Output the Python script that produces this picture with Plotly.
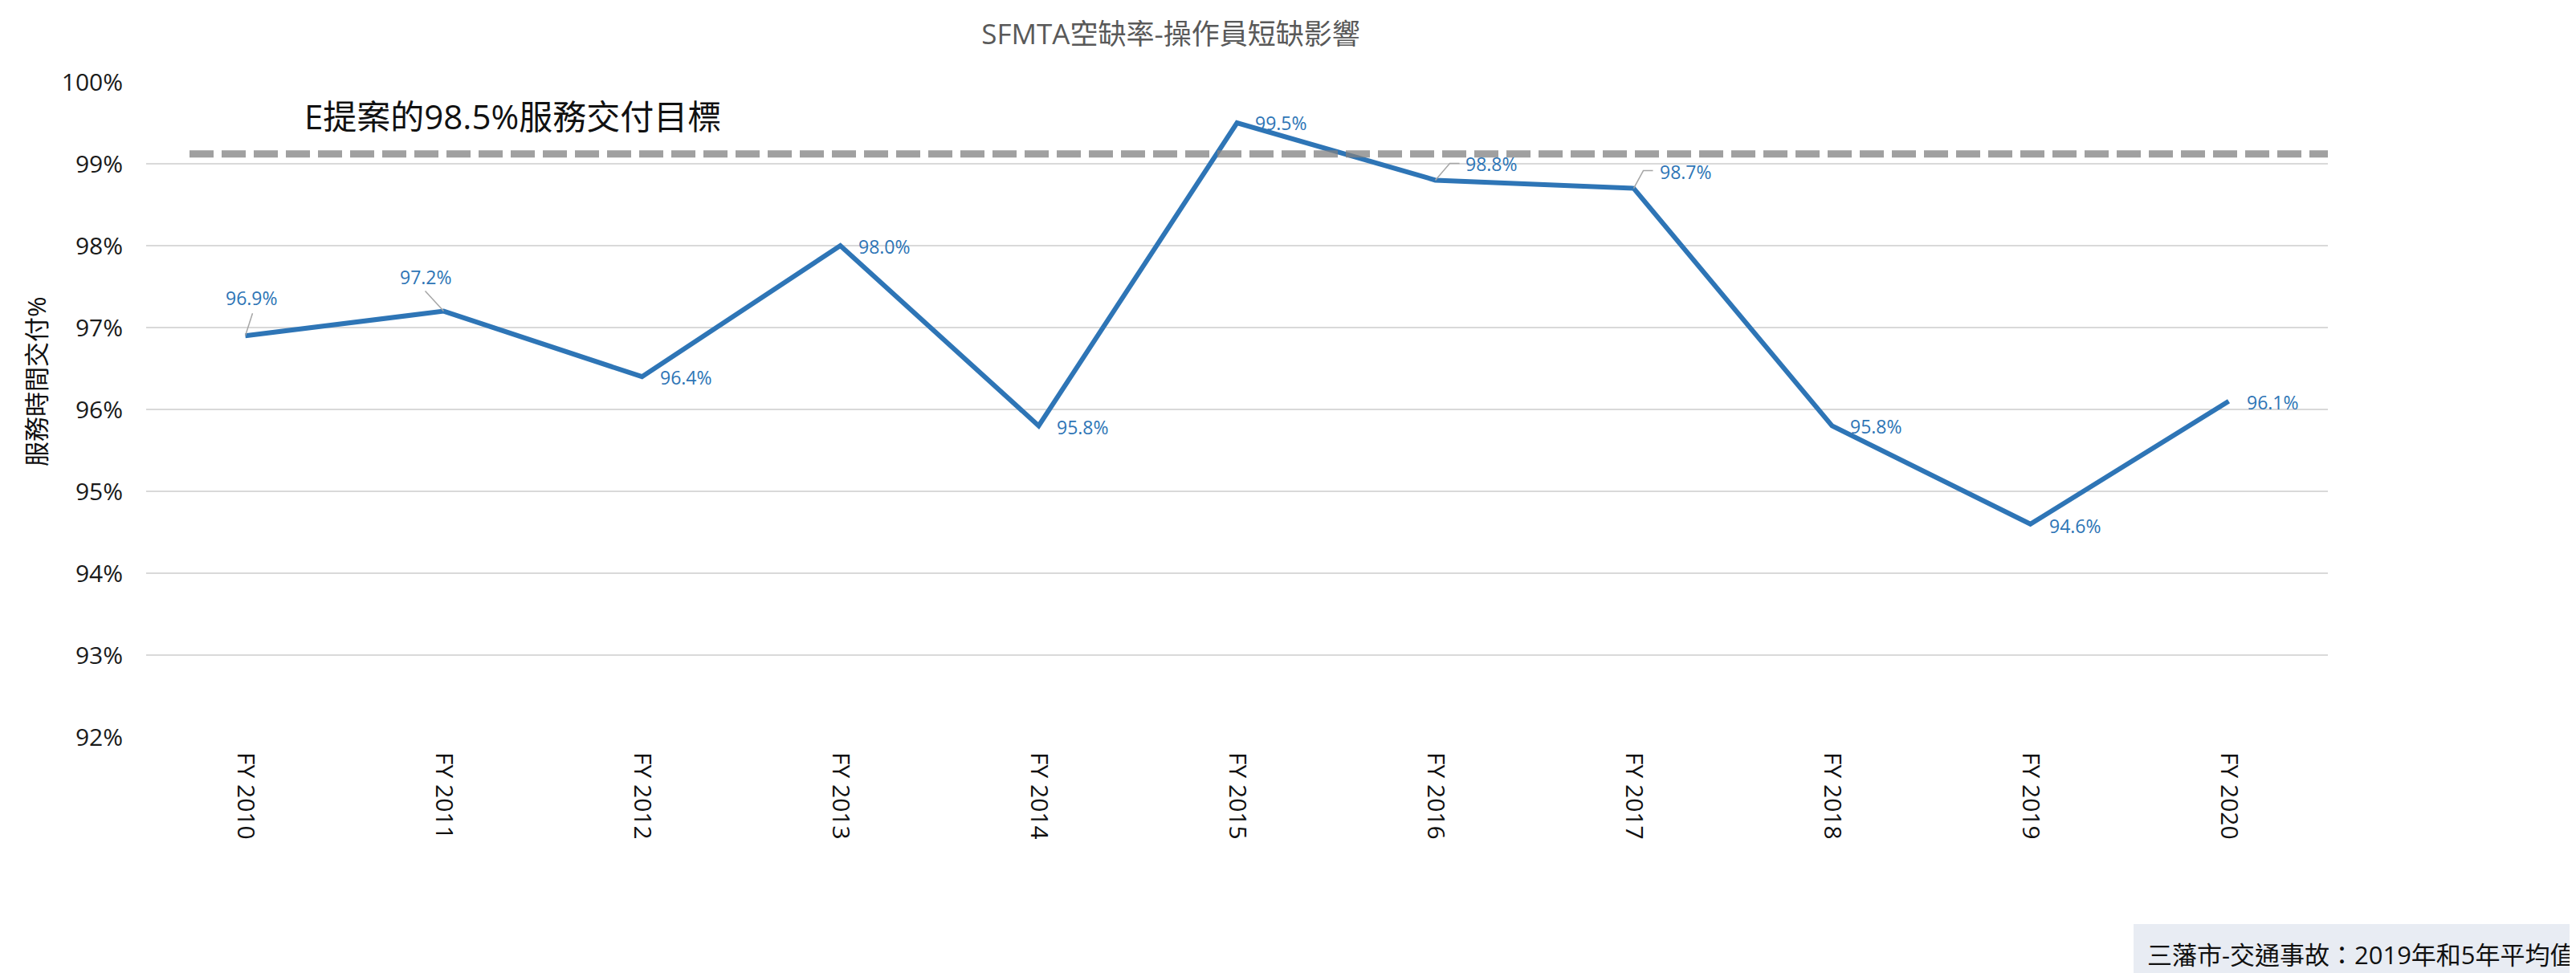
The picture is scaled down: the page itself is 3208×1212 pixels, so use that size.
import plotly.graph_objects as go

# ---- data ----
categories = ["FY 2010", "FY 2011", "FY 2012", "FY 2013", "FY 2014", "FY 2015",
              "FY 2016", "FY 2017", "FY 2018", "FY 2019", "FY 2020"]
delivery_pct = [96.9, 97.2, 96.4, 98.0, 95.8, 99.5, 98.8, 98.7, 95.8, 94.6, 96.1]
y_ticks = [92, 93, 94, 95, 96, 97, 98, 99, 100]
y_tick_labels = ["92%", "93%", "94%", "95%", "96%", "97%", "98%", "99%", "100%"]
target_level = 99.12
title_text = "SFMTA空缺率-操作員短缺影響"
target_text = "E提案的98.5%服務交付目標"
y_title = "服務時間交付%"
footer_text = "三藩市-交通事故：2019年和5年平均值"

# ---- label placement (pixels, relative to each point) ----
label_dx = [8, -22, 55, 55, 55, 55, 70, 65, 55, 56, 55]
label_dy = [47, 43, -1, -1, -2, 0, 20, 21, -1, -2, -1]
leader_paths = {
    0: "M0,0 L9,28",
    1: "M0,0 L-23,25",
    6: "M0,0 L18,21 L30,21",
    7: "M0,0 L12,22 L24,22",
}

OFF = 8  # default page body margin
W, H = 3208 - OFF, 1212 - OFF
L, T = 182 - OFF, 102 - OFF
R = W - (2899 - OFF)
B = H - (918 - OFF)
PW, PH = W - L - R, H - T - B

def px_x(p):
    return (p - OFF - L) / PW

def px_y(p):
    return (H - B - (p - OFF)) / PH

FONT = "Open Sans, Noto Sans CJK TC, sans-serif"
BLUE = "#2E75B6"

fig = go.Figure()
fig.add_trace(go.Scatter(
    x=categories, y=delivery_pct, mode="lines",
    line=dict(color=BLUE, width=6), hoverinfo="skip", showlegend=False,
))

annotations = []
for i, (c, v) in enumerate(zip(categories, delivery_pct)):
    annotations.append(dict(
        x=c, y=v, xref="x", yref="y", text=f"{v:.1f}%", showarrow=False,
        xshift=label_dx[i], yshift=label_dy[i],
        font=dict(family=FONT, size=23, color=BLUE),
    ))

shapes = []
for i, path in leader_paths.items():
    shapes.append(dict(
        type="path", xref="x", yref="y",
        xsizemode="pixel", ysizemode="pixel",
        xanchor=categories[i], yanchor=delivery_pct[i],
        path=path, line=dict(color="#A6A6A6", width=1.5), layer="above",
    ))

# target dashed line
shapes.append(dict(
    type="line", xref="paper", yref="y", x0=px_x(236), x1=1,
    y0=target_level, y1=target_level,
    line=dict(color="rgba(128,128,128,0.75)", width=9, dash="30px,10px"),
    layer="above",
))

# footer box
shapes.append(dict(
    type="rect", xref="paper", yref="paper",
    x0=px_x(2657), x1=px_x(3300), y0=px_y(1260), y1=px_y(1151),
    fillcolor="#E8ECF3", line=dict(width=0), layer="below",
))

annotations.append(dict(
    x=px_x(377), y=99.58, xref="paper", yref="y", xanchor="left", yanchor="middle",
    text=target_text, showarrow=False,
    font=dict(family=FONT, size=42, color="#111111"),
))
annotations.append(dict(
    x=px_x(45), y=px_y(475), xref="paper", yref="paper", xanchor="center", yanchor="middle",
    text=y_title, textangle=-90, showarrow=False,
    font=dict(family=FONT, size=31, color="#111111"),
))
annotations.append(dict(
    x=px_x(2672), y=px_y(1189), xref="paper", yref="paper", xanchor="left", yanchor="middle",
    text=footer_text, showarrow=False,
    font=dict(family=FONT, size=31, color="#111111"),
))

fig.update_layout(
    width=W, height=H,
    margin=dict(l=L, r=R, t=T, b=B, pad=0),
    paper_bgcolor="white", plot_bgcolor="white",
    showlegend=False,
    title=dict(text=title_text, x=(1458 - OFF) / W, xanchor="center", xref="container",
               y=1 - (43 - OFF) / H, yanchor="middle", yref="container",
               font=dict(family=FONT, size=35, color="#595959")),
    xaxis=dict(type="category", range=[-0.5, len(categories) - 0.5],
               showgrid=False, showline=False, zeroline=False,
               ticks="", tickangle=90, ticklabelstandoff=18,
               tickfont=dict(family=FONT, size=30, color="#111111")),
    yaxis=dict(range=[92, 100], tickvals=y_ticks, ticktext=y_tick_labels,
               showgrid=True, gridcolor="#D9D9D9", gridwidth=2,
               zeroline=False, showline=False, ticks="", ticklabelstandoff=28,
               tickfont=dict(family=FONT, size=30, color="#1A1A1A")),
    shapes=shapes, annotations=annotations,
)

fig.write_html("out.html")
